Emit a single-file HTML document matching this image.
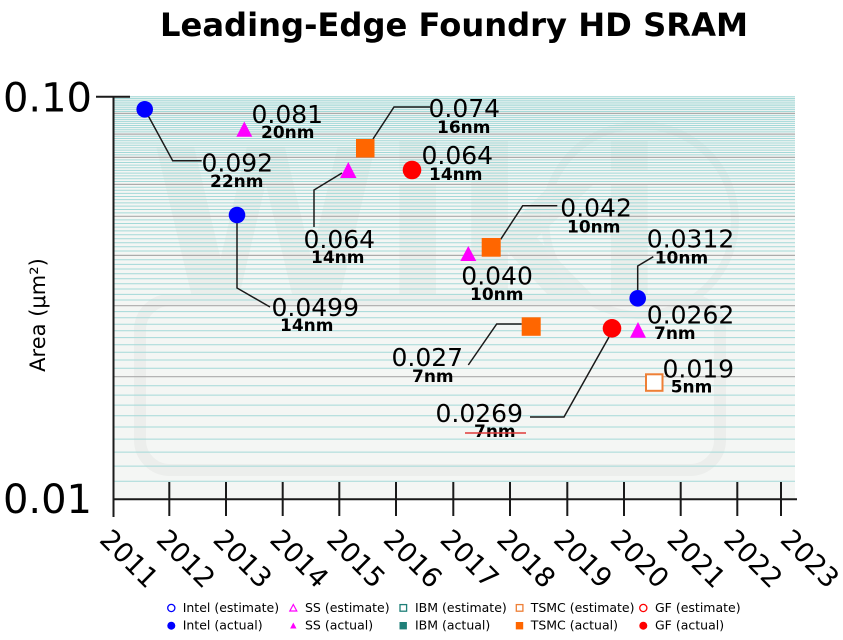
<!DOCTYPE html>
<html><head><meta charset="utf-8"><style>
html,body{margin:0;padding:0;background:#fff;}
svg{display:block;}
text{font-family:"DejaVu Sans","Liberation Sans",sans-serif;fill:#000;}
</style></head><body>
<svg width="843" height="640" viewBox="0 0 843 640" xmlns="http://www.w3.org/2000/svg">
<rect width="843" height="640" fill="#fff"/>
<!-- Title -->
<text x="454" y="36" text-anchor="middle" font-size="32" font-weight="bold" textLength="588" lengthAdjust="spacingAndGlyphs">Leading-Edge Foundry HD SRAM</text>

<!-- plot background -->
<rect x="113" y="96" width="682" height="403" fill="#f4f6f4"/>
<!-- faint watermark -->
<g>
  <text x="150" y="300" font-size="210" font-weight="bold" style="fill:#ebeeeb">Wiki</text>
  <rect x="140" y="300" width="580" height="170" rx="30" fill="none" stroke="#eceeec" stroke-width="12"/>
  <circle cx="640" cy="220" r="95" fill="none" stroke="#eceeec" stroke-width="8"/>
</g>
<!-- cyan minor grid lines -->
<path stroke="#a3d9d8" stroke-width="1" fill="none" d="
M113 481.3H795 M113 466.1H795 M113 452.1H795 M113 439.1H795 M113 427.0H795 M113 415.7H795 M113 405.1H795 M113 395.1H795 M113 385.7H795
M113 368.2H795 M113 360.0H795 M113 352.2H795 M113 344.8H795 M113 337.6H795 M113 330.8H795 M113 324.2H795 M113 317.8H795 M113 311.6H795
M113 300.0H795 M113 294.4H795 M113 289.0H795 M113 283.8H795 M113 278.7H795 M113 273.8H795 M113 269.0H795 M113 264.4H795 M113 259.8H795
M113 251.0H795 M113 246.8H795 M113 242.7H795 M113 238.7H795 M113 234.8H795 M113 230.9H795 M113 227.1H795 M113 223.5H795 M113 219.9H795
M113 212.9H795 M113 209.5H795 M113 206.1H795 M113 202.9H795 M113 199.6H795 M113 196.5H795 M113 193.4H795 M113 190.3H795 M113 187.3H795
M113 181.5H795 M113 178.7H795 M113 175.9H795 M113 173.1H795 M113 170.4H795 M113 167.7H795 M113 165.1H795 M113 162.5H795 M113 159.9H795
M113 154.9H795 M113 152.5H795 M113 150.1H795 M113 147.7H795 M113 145.3H795 M113 143.0H795 M113 140.7H795 M113 138.5H795 M113 136.3H795
M113 131.9H795 M113 129.7H795 M113 127.6H795 M113 125.5H795 M113 123.4H795 M113 121.4H795 M113 119.4H795 M113 117.4H795 M113 115.4H795
M113 111.5H795 M113 109.6H795 M113 107.7H795 M113 105.8H795 M113 104.0H795 M113 102.1H795 M113 100.3H795 M113 98.5H795 M113 96.8H795"/>
<!-- gray major grid lines -->
<path stroke="#ababab" stroke-width="1.2" fill="none" d="M113 376.7H795 M113 305.7H795 M113 255.4H795 M113 216.3H795 M113 184.4H795 M113 157.4H795 M113 134.1H795 M113 113.4H795"/>

<!-- axes -->
<g stroke="#1a1a1a" stroke-width="2" fill="none">
  <path d="M113.5 96V517"/>
  <path d="M96 96.7H130"/>
  <path d="M113 499.3H797"/>
  <path d="M169.3 482V516 M226 482V516 M282.7 482V516 M339.3 482V516 M396 482V516 M453.3 482V516 M510 482V516 M567.3 482V516 M624 482V516 M680.7 482V516 M737.3 482V516 M781 482V516"/>
</g>
<!-- y tick labels -->
<text x="92" y="111.7" text-anchor="end" font-size="40">0.10</text>
<text x="92" y="513" text-anchor="end" font-size="40">0.01</text>
<!-- y axis label -->
<text transform="translate(45,315) rotate(-90)" text-anchor="middle" font-size="21">Area (μm²)</text>

<!-- x tick labels -->
<g font-size="27">
<text transform="translate(98.3,541) rotate(45)">2011</text>
<text transform="translate(155,541) rotate(45)">2012</text>
<text transform="translate(211.8,541) rotate(45)">2013</text>
<text transform="translate(268.5,541) rotate(45)">2014</text>
<text transform="translate(325.2,541) rotate(45)">2015</text>
<text transform="translate(382,541) rotate(45)">2016</text>
<text transform="translate(438.7,541) rotate(45)">2017</text>
<text transform="translate(495.4,541) rotate(45)">2018</text>
<text transform="translate(552.2,541) rotate(45)">2019</text>
<text transform="translate(608.9,541) rotate(45)">2020</text>
<text transform="translate(665.6,541) rotate(45)">2021</text>
<text transform="translate(722.4,541) rotate(45)">2022</text>
<text transform="translate(779,541) rotate(45)">2023</text>
</g>

<!-- leader lines -->
<g stroke="#1a1a1a" stroke-width="1.5" fill="none">
  <path d="M144.7 109.3L172.7 160.7H201.7"/>
  <path d="M237 215V288L270 307"/>
  <path d="M342 173L314 190V227"/>
  <path d="M373 139L394 107H430"/>
  <path d="M500.7 239.3L522.7 205.7H557.3"/>
  <path d="M637.7 290V266L653.3 256.7"/>
  <path d="M521.7 324H496.7L468.3 365"/>
  <path d="M609 337L564 417H530"/>
</g>

<!-- markers -->
<g fill="#0000ff">
  <circle cx="144.7" cy="109.3" r="8.3"/>
  <circle cx="237" cy="215" r="8.3"/>
  <circle cx="637.7" cy="298.3" r="8.3"/>
</g>
<g fill="#ff0000">
  <circle cx="412" cy="170" r="9.3"/>
  <circle cx="612" cy="328.3" r="9.3"/>
</g>
<g fill="#ff00ff">
  <polygon points="244.3,121.5 252.3,136.7 236.3,136.7"/>
  <polygon points="348.3,162 356.5,178 340.1,178"/>
  <polygon points="468.3,246 476.3,261 460.3,261"/>
  <polygon points="638,322 646,337.7 630,337.7"/>
</g>
<g fill="#ff6600">
  <rect x="356" y="139" width="18.5" height="18.5"/>
  <rect x="481.7" y="238" width="19" height="18.7"/>
  <rect x="521.7" y="317.3" width="19" height="18.5"/>
</g>
<rect x="646" y="374.3" width="16.5" height="16.5" fill="#fff" stroke="#ee7f36" stroke-width="2"/>

<!-- annotations -->
<g font-size="25">
  <text x="201.5" y="171.7">0.092</text>
  <text x="251.5" y="123">0.081</text>
  <text x="428.5" y="117">0.074</text>
  <text x="421.5" y="164">0.064</text>
  <text x="303.5" y="248">0.064</text>
  <text x="271.5" y="316">0.0499</text>
  <text x="560.3" y="216.7">0.042</text>
  <text x="461.3" y="284.3">0.040</text>
  <text x="646.8" y="247.3">0.0312</text>
  <text x="646.8" y="323.3">0.0262</text>
  <text x="662.5" y="377.3">0.019</text>
  <text x="391.5" y="366">0.027</text>
  <text x="435.5" y="422">0.0269</text>
</g>
<g font-size="17" font-weight="bold">
  <text x="210" y="187">22nm</text>
  <text x="261" y="138">20nm</text>
  <text x="437" y="133">16nm</text>
  <text x="429" y="180">14nm</text>
  <text x="311" y="263">14nm</text>
  <text x="280" y="331">14nm</text>
  <text x="567" y="232.3">10nm</text>
  <text x="470" y="300">10nm</text>
  <text x="654.7" y="263.3">10nm</text>
  <text x="654" y="339">7nm</text>
  <text x="670.7" y="392.7">5nm</text>
  <text x="412" y="382">7nm</text>
  <text x="474" y="437">7nm</text>
</g>
<path d="M465 433H526" stroke="#e03a3a" stroke-width="1.5"/>

<!-- legend -->
<g font-size="12.5">
  <text x="182.7" y="612">Intel (estimate)</text>
  <text x="182.7" y="629.5">Intel (actual)</text>
  <text x="305" y="612">SS (estimate)</text>
  <text x="305" y="629.5">SS (actual)</text>
  <text x="415" y="612">IBM (estimate)</text>
  <text x="415" y="629.5">IBM (actual)</text>
  <text x="530.7" y="612">TSMC (estimate)</text>
  <text x="530.7" y="629.5">TSMC (actual)</text>
  <text x="655" y="612">GF (estimate)</text>
  <text x="655" y="629.5">GF (actual)</text>
</g>
<circle cx="171.3" cy="608" r="3.6" fill="none" stroke="#0000ff" stroke-width="1.3"/>
<circle cx="171.3" cy="625.7" r="4" fill="#0000ff"/>
<polygon points="293.3,604.5 296.8,611 289.8,611" fill="none" stroke="#ff00ff" stroke-width="1.2"/>
<polygon points="293.3,622.5 296.5,628.5 290.1,628.5" fill="#ff00ff"/>
<rect x="400" y="604.6" width="6.6" height="6.6" fill="none" stroke="#1f7f78" stroke-width="1.3"/>
<rect x="399.5" y="622" width="7.4" height="7.4" fill="#1f7f78"/>
<rect x="516.3" y="604.6" width="6.6" height="6.6" fill="none" stroke="#ee7f36" stroke-width="1.3"/>
<rect x="515.8" y="622" width="7.4" height="7.4" fill="#ff6600"/>
<circle cx="643.3" cy="608" r="3.6" fill="none" stroke="#ff0000" stroke-width="1.3"/>
<circle cx="643.3" cy="625.7" r="4" fill="#ff0000"/>
</svg>
</body></html>
